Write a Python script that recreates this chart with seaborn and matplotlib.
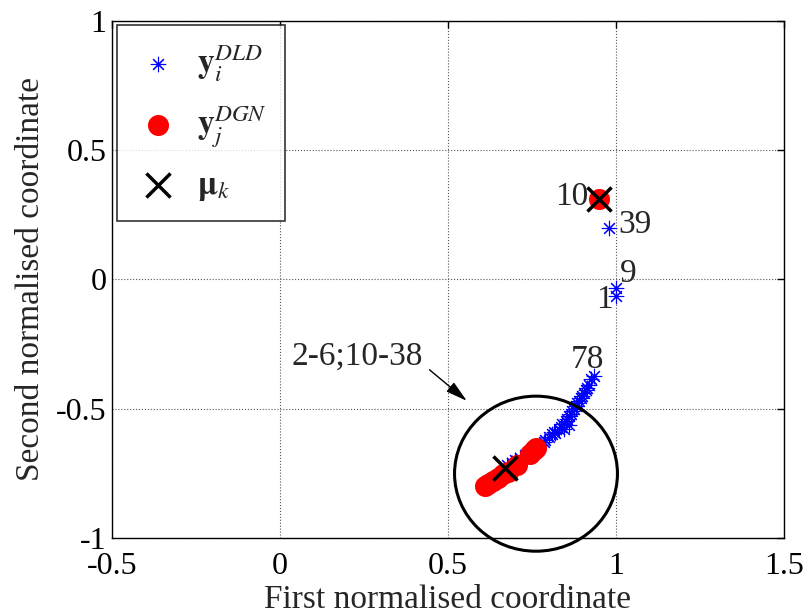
import numpy as np
import pandas as pd
import matplotlib
matplotlib.use("Agg")
import matplotlib.pyplot as plt
import seaborn as sns
from matplotlib.patches import Ellipse

# DLD points (y_i^DLD)
dld_x = [1.00, 1.00, 0.98, 0.925, 0.935,
         0.675, 0.69, 0.70, 0.715, 0.73, 0.745, 0.76, 0.775, 0.785, 0.79,
         0.80, 0.81, 0.815, 0.82, 0.83, 0.835, 0.84, 0.85, 0.855, 0.86,
         0.865, 0.87, 0.875, 0.88, 0.885, 0.89, 0.895, 0.90, 0.905, 0.91,
         0.915, 0.92, 0.86, 0.845]
dld_y = [-0.065, -0.035, 0.20, -0.385, -0.375,
         -0.72, -0.71, -0.70, -0.69, -0.68, -0.665, -0.655, -0.64, -0.63, -0.62,
         -0.61, -0.60, -0.59, -0.595, -0.58, -0.57, -0.56, -0.55, -0.54, -0.53,
         -0.52, -0.51, -0.50, -0.49, -0.48, -0.47, -0.46, -0.45, -0.44, -0.43,
         -0.42, -0.41, -0.565, -0.58]

# DGN points (y_j^DGN)
dgn_x = [0.95, 0.61, 0.62, 0.635, 0.65, 0.665, 0.68, 0.705, 0.745, 0.755, 0.762]
dgn_y = [0.31, -0.80, -0.79, -0.78, -0.77, -0.755, -0.745, -0.72, -0.675, -0.662, -0.652]

# cluster centres (mu_k)
mu_x = [0.95, 0.67]
mu_y = [0.31, -0.73]

# annotations
ann_text = ["10", "39", "9", "1", "78"]
ann_x = [0.818, 1.007, 1.013, 0.94, 0.866]
ann_y = [0.32, 0.21, 0.02, -0.08, -0.31]

sns.set_theme(style="white")
plt.rcParams['font.family'] = ['Liberation Serif', 'DejaVu Serif']
plt.rcParams['mathtext.fontset'] = 'stix'

fig = plt.figure(figsize=(8.09, 6.16), dpi=100)
ax = fig.add_axes([0.1385, 0.127, 0.8305, 0.839])

dld = pd.DataFrame({"x": dld_x, "y": dld_y})
dgn = pd.DataFrame({"x": dgn_x, "y": dgn_y})
mu = pd.DataFrame({"x": mu_x, "y": mu_y})

sns.scatterplot(data=dld, x="x", y="y", ax=ax, marker=(8, 2, 0), color="#0000ff",
                s=110, linewidth=0.8, edgecolor="#0000ff", zorder=3,
                label=r"$\mathbf{y}_i^{DLD}$")
sns.scatterplot(data=dgn, x="x", y="y", ax=ax, marker="o", color="#ff0000",
                s=230, linewidth=0, zorder=4, label=r"$\mathbf{y}_j^{DGN}$")
sns.scatterplot(data=mu, x="x", y="y", ax=ax, marker="x", color="black",
                s=300, linewidth=2.5, zorder=5, label=r"$\mathbf{\mu}_k$")

ell = Ellipse((0.762, -0.752), width=0.485, height=0.60, fill=False,
              edgecolor="black", linewidth=2.2, clip_on=False, zorder=6)
ax.add_patch(ell)

ax.annotate("", xy=(0.556, -0.47), xytext=(0.445, -0.35),
            arrowprops=dict(arrowstyle="-|>,head_length=1.1,head_width=0.3",
                            color="black", lw=1.0, shrinkA=0, shrinkB=0))
ax.text(0.035, -0.30, "2-6;10-38", fontsize=24, ha="left", va="center")

for t, x, y in zip(ann_text, ann_x, ann_y):
    ax.text(x, y, t, fontsize=24, ha="left", va="center", zorder=7)

ax.set_xlim(-0.5, 1.5)
ax.set_ylim(-1, 1)
ax.set_xticks([-0.5, 0, 0.5, 1, 1.5])
ax.set_xticklabels(["-0.5", "0", "0.5", "1", "1.5"])
ax.set_yticks([-1, -0.5, 0, 0.5, 1])
ax.set_yticklabels(["-1", "-0.5", "0", "0.5", "1"])
ax.tick_params(direction="in", length=5, width=1, labelsize=23, colors="black",
               top=True, right=True, pad=4)
ax.tick_params(axis="x", pad=10)
ax.grid(True, linestyle=":", color="#555555", linewidth=0.8)
for s in ax.spines.values():
    s.set_color("black")
    s.set_linewidth(1.0)
ax.set_xlabel("First normalised coordinate", fontsize=24, labelpad=3)
ax.set_ylabel("Second normalised coordinate", fontsize=24, labelpad=7)

leg = ax.legend(loc="upper left", fontsize=24, frameon=True, fancybox=False,
                bbox_to_anchor=(0.007, 0.992),
                borderaxespad=0.0, handletextpad=0.45, labelspacing=0.62,
                borderpad=0.55, handlelength=1.4)
leg.get_frame().set_edgecolor("black")
leg.get_frame().set_linewidth(1.2)

fig.savefig("out.png", dpi=100)
